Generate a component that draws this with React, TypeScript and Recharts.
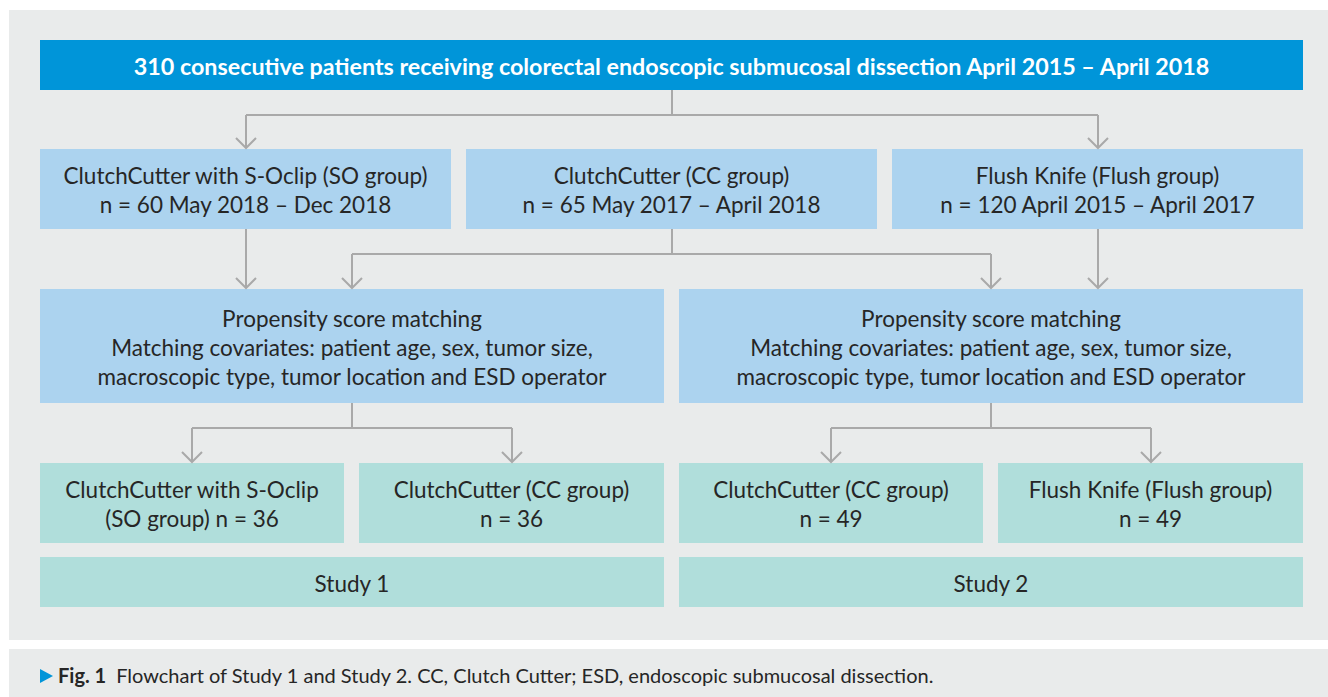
import React from 'react';
import { ComposedChart, XAxis, YAxis, ReferenceArea, ReferenceLine, Scatter } from 'recharts';

const W = 1328;
const H = 697;
const FONT = 'Lato, "Noto Sans", sans-serif';

// text content
const TITLE = '310 consecutive patients receiving colorectal endoscopic submucosal dissection April 2015 – April 2018';
const COHORTS = [
  ['ClutchCutter with S-Oclip (SO group)', 'n = 60 May 2018 – Dec 2018'],
  ['ClutchCutter (CC group)', 'n = 65 May 2017 – April 2018'],
  ['Flush Knife (Flush group)', 'n = 120 April 2015 – April 2017'],
];
const MATCHING = [
  'Propensity score matching',
  'Matching covariates: patient age, sex, tumor size,',
  'macroscopic type, tumor location and ESD operator',
];
const MATCHED = [
  ['ClutchCutter with S-Oclip', '(SO group) n = 36'],
  ['ClutchCutter (CC group)', 'n = 36'],
  ['ClutchCutter (CC group)', 'n = 49'],
  ['Flush Knife (Flush group)', 'n = 49'],
];
const STUDIES = ['Study 1', 'Study 2'];
const CAPTION_LABEL = 'Fig. 1';
const CAPTION_TEXT = 'Flowchart of Study 1 and Study 2. CC, Clutch Cutter; ESD, endoscopic submucosal dissection.';

// layout (chart units = pixels)
const ROW_TOP = [40, 90];
const ROW_COHORT = [149, 229];
const ROW_MATCH = [289, 403];
const ROW_MATCHED = [463, 543];
const ROW_STUDY = [557, 607];
const COLS_1 = [[40, 1303]];
const COLS_2 = [[40, 664], [679, 1303]];
const COLS_3 = [[40, 451], [466, 877], [892, 1303]];
const COLS_4 = [[40, 344], [359, 664], [679, 983], [998, 1303]];

const BLUE = '#0095d9';
const LIGHT_BLUE = '#acd3ef';
const TEAL = '#b0dedb';
const PANEL = '#e9ebeb';
const LINE = '#a9a9a9';
const TEXT = '#262626';

type Node = { id: string; x1: number; x2: number; y1: number; y2: number; fill: string; lines: string[]; color: string; bold?: boolean };

const nodes: Node[] = [
  { id: 'top', x1: COLS_1[0][0], x2: COLS_1[0][1], y1: ROW_TOP[0], y2: ROW_TOP[1], fill: BLUE, lines: [TITLE], color: '#ffffff', bold: true },
  ...COHORTS.map((lines, i) => ({ id: ['so', 'cc', 'flush'][i], x1: COLS_3[i][0], x2: COLS_3[i][1], y1: ROW_COHORT[0], y2: ROW_COHORT[1], fill: LIGHT_BLUE, lines, color: TEXT })),
  ...COLS_2.map((c, i) => ({ id: ['matchL', 'matchR'][i], x1: c[0], x2: c[1], y1: ROW_MATCH[0], y2: ROW_MATCH[1], fill: LIGHT_BLUE, lines: MATCHING, color: TEXT })),
  ...MATCHED.map((lines, i) => ({ id: 'm' + i, x1: COLS_4[i][0], x2: COLS_4[i][1], y1: ROW_MATCHED[0], y2: ROW_MATCHED[1], fill: TEAL, lines, color: TEXT })),
  ...STUDIES.map((s, i) => ({ id: 's' + i, x1: COLS_2[i][0], x2: COLS_2[i][1], y1: ROW_STUDY[0], y2: ROW_STUDY[1], fill: TEAL, lines: [s], color: TEXT })),
];

const FLOWS = [
  { from: 'top', to: ['so', 'flush'], straight: false },
  { from: 'so', to: ['matchL'], straight: true },
  { from: 'cc', to: ['matchL', 'matchR'], straight: false },
  { from: 'flush', to: ['matchR'], straight: true },
  { from: 'matchL', to: ['m0', 'm1'], straight: false },
  { from: 'matchR', to: ['m2', 'm3'], straight: false },
];

const byId = (id: string) => nodes.find((n) => n.id === id)!;
const cx = (n: Node) => (n.x1 + n.x2) / 2;

const segments: { x: number; y: number }[][] = [];
const tips: { x: number; y: number }[] = [];
FLOWS.forEach((f) => {
  const src = byId(f.from);
  const sx = Math.round(cx(src));
  if (f.straight) {
    const t = byId(f.to[0]);
    segments.push([{ x: sx, y: src.y2 }, { x: sx, y: t.y1 - 1 }]);
    tips.push({ x: sx, y: t.y1 - 1 });
    return;
  }
  const elbow = src.y2 + 25;
  const xs = f.to.map((id) => Math.round(cx(byId(id))));
  segments.push([{ x: sx, y: src.y2 }, { x: sx, y: elbow }]);
  segments.push([{ x: Math.min(...xs), y: elbow }, { x: Math.max(...xs), y: elbow }]);
  f.to.forEach((id, i) => {
    const t = byId(id);
    segments.push([{ x: xs[i], y: elbow }, { x: xs[i], y: t.y1 - 1 }]);
    tips.push({ x: xs[i], y: t.y1 - 1 });
  });
});

const BoxLabel = (props: any) => {
  const vb = props.viewBox;
  if (!vb) return null;
  const { lines, color, bold } = props;
  const lh = 29;
  const mx = vb.x + vb.width / 2;
  const my = vb.y + vb.height / 2 + 1;
  return (
    <text x={mx} textAnchor="middle" fill={color} fontFamily={FONT} fontSize={bold ? 23.3 : 22.5} fontWeight={bold ? 700 : 400}>
      {lines.map((l: string, i: number) => (
        <tspan key={i} x={mx} y={my + (i - (lines.length - 1) / 2) * lh} dominantBaseline="central">
          {l}
        </tspan>
      ))}
    </text>
  );
};

const CaptionLabel = (props: any) => {
  const vb = props.viewBox;
  if (!vb) return null;
  const y = vb.y + 34;
  const x = vb.x + 31;
  return (
    <g>
      <polygon points={`${x},${y - 14} ${x + 13},${y - 7} ${x},${y}`} fill={BLUE} />
      <text x={x + 18} y={y} fontFamily={FONT} fontSize={20} fill={TEXT}>
        <tspan fontWeight={700}>{CAPTION_LABEL}</tspan>
        <tspan dx={10}>{CAPTION_TEXT}</tspan>
      </text>
    </g>
  );
};

const Chevron = (props: any) => {
  const { cx: x, cy: y } = props;
  return <polyline points={`${x - 10},${y - 10} ${x},${y} ${x + 10},${y - 10}`} fill="none" stroke={LINE} strokeWidth={2} />;
};

export default function App() {
  return (
    <div style={{ position: 'absolute', left: 0, top: 0, background: '#ffffff' }}>
      <ComposedChart width={W} height={H} margin={{ top: 0, right: 0, bottom: 0, left: 0 }} data={tips}>
        <XAxis type="number" dataKey="x" domain={[0, W]} hide />
        <YAxis type="number" domain={[0, H]} reversed hide />
        <ReferenceArea x1={9} x2={W} y1={10} y2={640} fill={PANEL} fillOpacity={1} stroke="none" />
        <ReferenceArea x1={9} x2={W} y1={649} y2={H} fill={PANEL} fillOpacity={1} stroke="none" label={(p: any) => <CaptionLabel {...p} />} />
        {segments.map((s, i) => (
          <ReferenceLine key={'seg' + i} segment={s} stroke={LINE} strokeWidth={2} />
        ))}
        {nodes.map((n) => (
          <ReferenceArea
            key={n.id}
            x1={n.x1}
            x2={n.x2}
            y1={n.y1}
            y2={n.y2}
            fill={n.fill}
            fillOpacity={1}
            stroke="none"
            label={(p: any) => <BoxLabel {...p} lines={n.lines} color={n.color} bold={n.bold} />}
          />
        ))}
        <Scatter data={tips} dataKey="y" shape={<Chevron />} isAnimationActive={false} />
      </ComposedChart>
    </div>
  );
}
